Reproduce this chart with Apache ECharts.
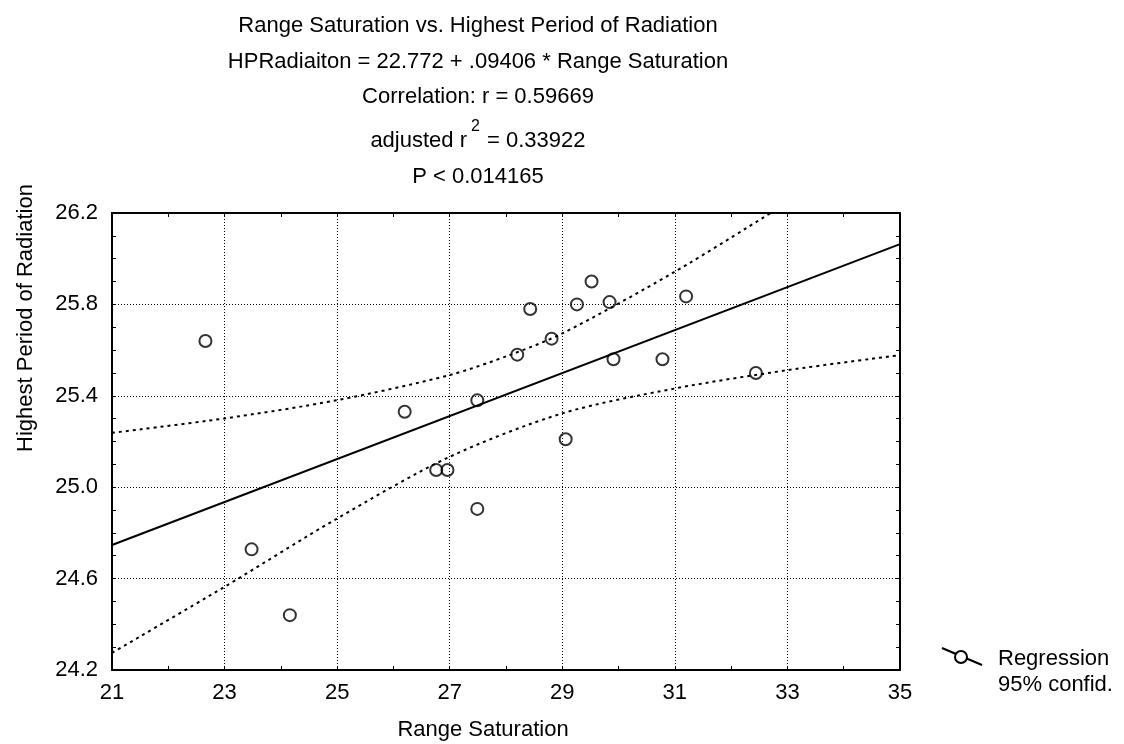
<!DOCTYPE html>
<html>
<head>
<meta charset="utf-8">
<script src="https://cdn.jsdelivr.net/npm/echarts@6/dist/echarts.min.js"></script>
<style>
  html, body { margin: 0; padding: 0; background: #fff; }
  #main { width: 1124px; height: 744px; }
</style>
</head>
<body>
<div id="main"></div>
<script>
// observed points (Range Saturation, Highest Period of Radiation)
var rangeSat = [22.66, 26.20, 27.49, 28.20, 28.43, 28.81, 29.26, 29.52, 29.84, 29.91,
                30.78, 31.20, 32.44, 29.06, 26.76, 26.96, 27.49, 23.48, 24.16];
var hpRad    = [25.64, 25.33, 25.38, 25.58, 25.78, 25.65, 25.80, 25.90, 25.81, 25.56,
                25.56, 25.835, 25.50, 25.21, 25.075, 25.075, 24.905, 24.728, 24.44];

// regression line end points  HPRadiaiton = 22.772 + .09406 * Range Saturation
var regX = [21, 35];
var regY = [24.747, 26.064];

// 95% confidence bands
var upX = [21, 23, 25, 27, 28.06, 29, 31, 32.7];
var upY = [25.238, 25.301, 25.381, 25.491, 25.578, 25.673, 25.943, 26.2];
var loX = [21, 23, 25, 27, 29, 31, 33, 35];
var loY = [24.275, 24.564, 24.863, 25.133, 25.323, 25.432, 25.512, 25.578];

var xTicks = { min: 21, max: 35, step: 2 };
var yTicks = { min: 24.2, max: 26.2, step: 0.4 };

var FONT = 'Liberation Sans, Arial, sans-serif';
var FS = 22;

function pairs(xs, ys) {
  var out = [];
  for (var i = 0; i < xs.length; i++) out.push([xs[i], ys[i]]);
  return out;
}

function axisBase(pos, isX, withLabel) {
  var t = isX ? xTicks : yTicks;
  return {
    type: 'value',
    position: pos,
    min: t.min,
    max: t.max,
    interval: t.step,
    axisLine: { show: true, onZero: false, lineStyle: { color: '#000', width: 2 } },
    axisTick: { show: true, inside: true, length: 4, lineStyle: { color: '#000', width: 1 } },
    minorTick: { show: true, splitNumber: isX ? 2 : 4, length: 4, lineStyle: { color: '#000', width: 1 } },
    minorSplitLine: { show: false },
    axisLabel: {
      show: withLabel,
      margin: isX ? 12 : 14,
      color: '#000',
      fontSize: FS,
      fontFamily: FONT,
      formatter: function (v) { return isX ? String(Math.round(v)) : v.toFixed(1); }
    },
    splitLine: { show: withLabel, lineStyle: { color: '#000', width: 1, type: [1, 2] } }
  };
}

function txt(s, x, y, align, size, rot) {
  var g = { type: 'text', x: x, y: y,
    style: { text: s, fill: '#000', font: (size || FS) + 'px ' + FONT, textAlign: align || 'center', textVerticalAlign: 'middle' } };
  if (rot) g.rotation = rot;
  return g;
}

var chart = echarts.init(document.getElementById('main'));

var titleLines = [
  'Range Saturation vs. Highest Period of Radiation',
  'HPRadiaiton = 22.772 + .09406 * Range Saturation',
  'Correlation: r = 0.59669'
];
var titleY = [26, 62, 97];

var graphics = [];
titleLines.forEach(function (s, i) { graphics.push(txt(s, 478, titleY[i])); });
graphics.push(txt('adjusted r', 467, 141, 'right'));
graphics.push(txt('2', 471, 127, 'left', 16));
graphics.push(txt('= 0.33922', 487, 141, 'left'));
graphics.push(txt('P < 0.014165', 478, 177));

// axis names
graphics.push(txt('Range Saturation', 483, 730));
graphics.push(txt('Highest Period of Radiation', 26, 318, 'center', FS, Math.PI / 2));

// legend
graphics.push({ type: 'line', shape: { x1: 942, y1: 648, x2: 982, y2: 665 },
  style: { stroke: '#000', lineWidth: 2 } });
graphics.push({ type: 'circle', shape: { cx: 961, cy: 657, r: 6 },
  style: { fill: '#fff', stroke: '#000', lineWidth: 2 } });
graphics.push(txt('Regression', 998, 659, 'left'));
graphics.push(txt('95% confid.', 998, 685, 'left'));

var option = {
  animation: false,
  backgroundColor: '#fff',
  grid: { left: 112, right: 224, top: 213, bottom: 74, containLabel: false },
  xAxis: [axisBase('bottom', true, true), axisBase('top', true, false)],
  yAxis: [axisBase('left', false, true), axisBase('right', false, false)],
  graphic: graphics,
  series: [
    {
      type: 'line', data: pairs(regX, regY), showSymbol: false, silent: true,
      lineStyle: { color: '#000', width: 2 }, z: 3
    },
    {
      type: 'line', data: pairs(upX, upY), smooth: 0.3, showSymbol: false, silent: true,
      lineStyle: { color: '#000', width: 2, type: [3, 4] }, z: 3
    },
    {
      type: 'line', data: pairs(loX, loY), smooth: 0.3, showSymbol: false, silent: true,
      lineStyle: { color: '#000', width: 2, type: [3, 4] }, z: 3
    },
    {
      type: 'scatter', data: pairs(rangeSat, hpRad), symbol: 'circle', symbolSize: 12,
      itemStyle: { color: 'rgba(255,255,255,0)', borderColor: '#000', borderWidth: 2 }, z: 4
    }
  ]
};

chart.setOption(option);
</script>
</body>
</html>
